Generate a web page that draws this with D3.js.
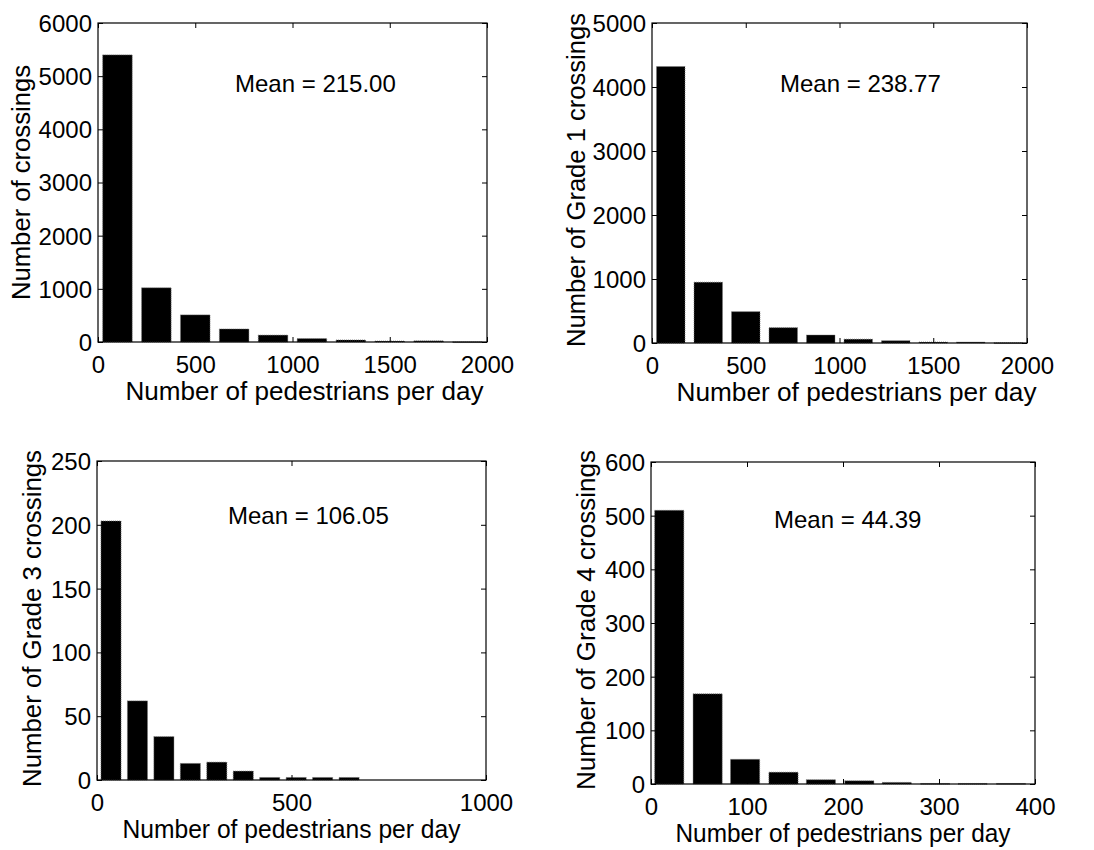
<!DOCTYPE html>
<html>
<head>
<meta charset="utf-8">
<script src="https://cdn.jsdelivr.net/npm/d3@7"></script>
<style>
  html, body { margin: 0; padding: 0; background: #fff; }
  svg { display: block; }
  text { font-family: "Liberation Sans", Arial, Helvetica, sans-serif; fill: #000; }
</style>
</head>
<body>
<svg id="chart" width="1094" height="850"></svg>
<script>
// ---------- data ----------
const binCenters1 = [100, 300, 500, 700, 900, 1100, 1300, 1500, 1700, 1900];
const counts1     = [5400, 1020, 510, 245, 130, 65, 38, 18, 22, 4];
const binCenters2 = [100, 300, 500, 700, 900, 1100, 1300, 1500, 1700, 1900];
const counts2     = [4320, 950, 490, 240, 125, 60, 36, 15, 14, 4];
const binCenters3 = [36, 104, 172, 240, 308, 376, 444, 512, 580, 648];
const counts3     = [203, 62, 34, 13, 14, 7, 2, 2, 2, 2];
const binCenters4 = [19, 59, 98, 138, 177, 217, 256, 296, 335, 375];
const counts4     = [510, 168, 46, 22, 8, 6, 3, 1, 1, 1];

const xTicks1 = [0, 500, 1000, 1500, 2000];
const yTicks1 = [0, 1000, 2000, 3000, 4000, 5000, 6000];
const xTicks2 = [0, 500, 1000, 1500, 2000];
const yTicks2 = [0, 1000, 2000, 3000, 4000, 5000];
const xTicks3 = [0, 500, 1000];
const yTicks3 = [0, 50, 100, 150, 200, 250];
const xTicks4 = [0, 100, 200, 300, 400];
const yTicks4 = [0, 100, 200, 300, 400, 500, 600];

const yLabels = ["Number of crossings", "Number of Grade 1 crossings",
                 "Number of Grade 3 crossings", "Number of Grade 4 crossings"];
const xLabel = "Number of pedestrians per day";
const meanLabels = ["Mean = 215.00", "Mean = 238.77", "Mean = 106.05", "Mean = 44.39"];

// ---------- layout (pixels) ----------
const panels = [
  { centers: binCenters1, counts: counts1, xTicks: xTicks1, yTicks: yTicks1, xMax: 2000, yMax: 6000,
    box: { l: 98, r: 487, t: 23, b: 342 }, yLab: { off: 68, dy: 0, len: 235 }, xLab: { dx: 12, len: 358 },
    mean: { dx: 137, dy: 69 } },
  { centers: binCenters2, counts: counts2, xTicks: xTicks2, yTicks: yTicks2, xMax: 2000, yMax: 5000,
    box: { l: 652, r: 1027, t: 23, b: 343 }, yLab: { off: 67, dy: -3, len: 334 }, xLab: { dx: 17, len: 360 },
    mean: { dx: 128, dy: 69 } },
  { centers: binCenters3, counts: counts3, xTicks: xTicks3, yTicks: yTicks3, xMax: 1000, yMax: 250,
    box: { l: 97, r: 486, t: 461, b: 780 }, yLab: { off: 56, dy: -2, len: 337 }, xLab: { dx: 0, len: 338 },
    mean: { dx: 131, dy: 63 } },
  { centers: binCenters4, counts: counts4, xTicks: xTicks4, yTicks: yTicks4, xMax: 400, yMax: 600,
    box: { l: 651, r: 1035, t: 462, b: 784 }, yLab: { off: 56, dy: -3, len: 340 }, xLab: { dx: 0, len: 335 },
    mean: { dx: 123, dy: 66 } }
];

const FONT = 24;
const LABEL_FONT = 25;
const TICK = 5;
const BAR_FRAC = 0.76;

const svg = d3.select("#chart");

panels.forEach((p, i) => {
  const { l, r, t, b } = p.box;
  const x = d3.scaleLinear().domain([0, p.xMax]).range([l, r]);
  const y = d3.scaleLinear().domain([0, p.yMax]).range([b, t]);
  const g = svg.append("g");

  const spacing = p.centers[1] - p.centers[0];
  const bw = x(spacing * BAR_FRAC) - x(0);

  // bars
  g.selectAll("rect.bar")
    .data(p.counts.map((c, k) => ({ c, x: p.centers[k] })))
    .join("rect")
    .attr("class", "bar")
    .attr("x", d => x(d.x) - bw / 2)
    .attr("width", bw)
    .attr("y", d => y(d.c))
    .attr("height", d => Math.max(0.8, y(0) - y(d.c)))
    .attr("fill", "#000")
    .attr("stroke", "#777")
    .attr("stroke-width", 0.8)
    .attr("stroke-dasharray", "1,1");

  // axes using d3 axis generators (ticks inward)
  const axB = d3.axisBottom(x).tickValues(p.xTicks).tickSize(-TICK).tickPadding(0).tickFormat(d3.format("d"));
  const axT = d3.axisTop(x).tickValues(p.xTicks).tickSize(-TICK).tickFormat("");
  const axL = d3.axisLeft(y).tickValues(p.yTicks).tickSize(-TICK).tickPadding(0).tickFormat(d3.format("d"));
  const axR = d3.axisRight(y).tickValues(p.yTicks).tickSize(-TICK).tickFormat("");

  const gb = g.append("g").attr("transform", `translate(0,${b})`).call(axB);
  const gt = g.append("g").attr("transform", `translate(0,${t})`).call(axT);
  const gl = g.append("g").attr("transform", `translate(${l},0)`).call(axL);
  const gr = g.append("g").attr("transform", `translate(${r},0)`).call(axR);

  [gb, gt, gl, gr].forEach(ax => {
    ax.select(".domain").remove();
    ax.selectAll(".tick line").attr("stroke", "#000").attr("stroke-width", 1);
  });
  gb.selectAll(".tick text")
    .attr("y", 31).attr("dy", null)
    .style("font-size", FONT + "px").style("font-family", "Liberation Sans, Arial, sans-serif")
    .attr("fill", "#000");
  gl.selectAll(".tick text")
    .attr("x", -6).attr("dy", "0.35em")
    .style("font-size", FONT + "px").style("font-family", "Liberation Sans, Arial, sans-serif")
    .attr("fill", "#000");

  // frame
  g.append("rect")
    .attr("x", l).attr("y", t).attr("width", r - l).attr("height", b - t)
    .attr("fill", "none").attr("stroke", "#000").attr("stroke-width", 1.2);

  // x label
  g.append("text")
    .attr("x", (l + r) / 2 + p.xLab.dx).attr("y", b + 58)
    .attr("text-anchor", "middle")
    .attr("textLength", p.xLab.len)
    .attr("lengthAdjust", "spacingAndGlyphs")
    .style("font-size", LABEL_FONT + "px")
    .text(xLabel);

  // y label
  g.append("text")
    .attr("transform", `translate(${l - p.yLab.off},${(t + b) / 2 + p.yLab.dy}) rotate(-90)`)
    .attr("text-anchor", "middle")
    .attr("textLength", p.yLab.len)
    .attr("lengthAdjust", "spacingAndGlyphs")
    .style("font-size", LABEL_FONT + "px")
    .text(yLabels[i]);

  // mean annotation
  g.append("text")
    .attr("x", l + p.mean.dx).attr("y", t + p.mean.dy)
    .style("font-size", FONT + "px")
    .text(meanLabels[i]);
});
</script>
</body>
</html>
